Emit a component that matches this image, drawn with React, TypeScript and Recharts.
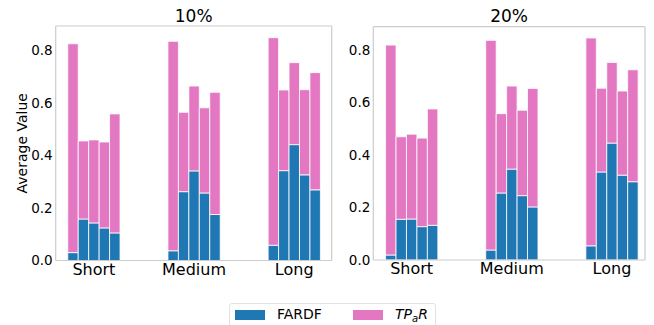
import React from 'react';
import { BarChart, Bar, XAxis, YAxis, ReferenceLine } from 'recharts';

const categories = ['Short', 'Medium', 'Long'];
const yTicks = [0, 0.2, 0.4, 0.6, 0.8];
const groupTicks = [0, 1, 2];
const seriesNames = ['FARDF', 'TPaR'];

// 10% panel: FARDF (blue, bottom) and bar totals (top of pink)
const fardf10Short = [0.030, 0.158, 0.143, 0.124, 0.105];
const fardf10Medium = [0.037, 0.262, 0.341, 0.257, 0.175];
const fardf10Long = [0.058, 0.342, 0.441, 0.326, 0.269];
const total10Short = [0.825, 0.455, 0.459, 0.451, 0.558];
const total10Medium = [0.834, 0.564, 0.664, 0.581, 0.640];
const total10Long = [0.848, 0.649, 0.753, 0.650, 0.715];

// 20% panel
const fardf20Short = [0.019, 0.155, 0.156, 0.127, 0.132];
const fardf20Medium = [0.038, 0.255, 0.346, 0.245, 0.202];
const fardf20Long = [0.054, 0.335, 0.445, 0.323, 0.298];
const total20Short = [0.818, 0.469, 0.479, 0.464, 0.575];
const total20Medium = [0.836, 0.557, 0.662, 0.570, 0.653];
const total20Long = [0.845, 0.654, 0.752, 0.643, 0.724];

const BLUE = '#1f77b4';
const PINK = '#e377c2';
const SPINE = '#cccccc';
const FONT = '"DejaVu Sans", sans-serif';

function buildRows(fardf: number[][], total: number[][]) {
  return categories.map((c, gi) => {
    const row: any = { x: gi, name: c };
    for (let i = 0; i < 5; i++) {
      row['b' + i] = fardf[gi][i];
      row['p' + i] = +(total[gi][i] - fardf[gi][i]).toFixed(4);
    }
    return row;
  });
}

const rows10 = buildRows([fardf10Short, fardf10Medium, fardf10Long], [total10Short, total10Medium, total10Long]);
const rows20 = buildRows([fardf20Short, fardf20Medium, fardf20Long], [total20Short, total20Medium, total20Long]);

const renderYLabel = (props: any) => {
  const vb = props.viewBox || { x: 0, y: 0, width: 0, height: 0 };
  const cx = vb.x + 11.3;
  const cy = vb.y + vb.height / 2;
  return (
    <text
      x={cx}
      y={cy}
      transform={`rotate(-90 ${cx} ${cy})`}
      textAnchor="middle"
      dominantBaseline="central"
      fontSize={14}
      fontFamily={FONT}
      fill="#000"
    >
      Average Value
    </text>
  );
};

type PanelProps = {
  rows: any[];
  width: number;
  height: number;
  margin: { top: number; right: number; bottom: number; left: number };
  yAxisWidth: number;
  xDomain: [number, number];
  yDomain: [number, number];
  showYLabel: boolean;
};

function Panel(p: PanelProps) {
  const bars: React.ReactNode[] = [];
  for (let i = 0; i < 5; i++) {
    bars.push(
      <Bar
        key={'b' + i}
        dataKey={'b' + i}
        stackId={'s' + i}
        name={seriesNames[0]}
        fill={BLUE}
        stroke="#ffffff"
        strokeWidth={0.8}
        isAnimationActive={false}
      />
    );
    bars.push(
      <Bar
        key={'p' + i}
        dataKey={'p' + i}
        stackId={'s' + i}
        name={seriesNames[1]}
        fill={PINK}
        stroke="#ffffff"
        strokeWidth={0.8}
        isAnimationActive={false}
      />
    );
  }
  return (
    <BarChart
      width={p.width}
      height={p.height}
      data={p.rows}
      margin={p.margin}
      barSize={10.45}
      barGap={0}
    >
      <XAxis
        dataKey="x"
        type="number"
        domain={p.xDomain}
        allowDataOverflow
        ticks={groupTicks}
        tickFormatter={(v: number) => categories[v] ?? ''}
        tickLine={false}
        tickSize={0}
        tickMargin={3}
        height={30}
        axisLine={{ stroke: SPINE, strokeWidth: 1.2 }}
        tick={{ fontSize: 16, fontFamily: FONT, fill: '#000' }}
        interval={0}
      />
      <YAxis
        type="number"
        domain={p.yDomain}
        allowDataOverflow
        ticks={yTicks}
        tickFormatter={(v: number) => v.toFixed(1)}
        tickLine={false}
        tickSize={0}
        tickMargin={3}
        width={p.yAxisWidth}
        axisLine={{ stroke: SPINE, strokeWidth: 1.2 }}
        tick={{ fontSize: 13.5, fontFamily: FONT, fill: '#000' }}
        interval={0}
        label={p.showYLabel ? renderYLabel : undefined}
      />
      <ReferenceLine y={p.yDomain[1]} stroke={SPINE} strokeWidth={1.2} ifOverflow="visible" />
      <ReferenceLine x={p.xDomain[1]} stroke={SPINE} strokeWidth={1.2} ifOverflow="visible" />
      {bars}
    </BarChart>
  );
}

function Legend() {
  return (
    <div
      style={{
        position: 'absolute',
        left: 229,
        top: 303,
        width: 207,
        height: 30,
        border: '1px solid #e2e2e2',
        borderRadius: 3,
        boxSizing: 'border-box',
        background: '#fff',
        fontFamily: FONT,
        fontSize: 14,
        color: '#000',
      }}
    >
      <div style={{ position: 'absolute', left: 5, top: 6, width: 30, height: 9.5, background: BLUE }} />
      <div style={{ position: 'absolute', left: 47, top: 3, lineHeight: '14px', whiteSpace: 'nowrap' }}>
        {seriesNames[0]}
      </div>
      <div style={{ position: 'absolute', left: 123, top: 6, width: 30, height: 9.5, background: PINK }} />
      <div style={{ position: 'absolute', left: 165, top: 3, lineHeight: '14px', whiteSpace: 'nowrap', fontStyle: 'italic' }}>
        TP<span style={{ fontSize: 10, verticalAlign: '-3px' }}>a</span>R
      </div>
    </div>
  );
}

export default function App() {
  return (
    <div
      style={{
        position: 'absolute',
        left: 0,
        top: 0,
        width: 654,
        height: 325,
        overflow: 'hidden',
        background: '#fff',
        fontFamily: FONT,
      }}
    >
      <div style={{ position: 'absolute', left: 0, top: 0 }}>
        <Panel
          rows={rows10}
          width={340}
          height={291}
          margin={{ top: 26, right: 8.3, bottom: 0.5, left: 10.7 }}
          yAxisWidth={45}
          xDomain={[-0.381, 2.374]}
          yDomain={[0, 0.8925]}
          showYLabel={true}
        />
      </div>
      <div style={{ position: 'absolute', left: 340, top: 0 }}>
        <Panel
          rows={rows20}
          width={314}
          height={290}
          margin={{ top: 26.7, right: 9, bottom: 0, left: 3.3 }}
          yAxisWidth={30}
          xDomain={[-0.383, 2.33]}
          yDomain={[0, 0.888]}
          showYLabel={false}
        />
      </div>
      <div
        style={{
          position: 'absolute',
          left: 55.7,
          width: 276,
          top: 8.3,
          textAlign: 'center',
          fontSize: 17,
          lineHeight: '17px',
          color: '#000',
        }}
      >
        10%
      </div>
      <div
        style={{
          position: 'absolute',
          left: 373.3,
          width: 271.7,
          top: 8.3,
          textAlign: 'center',
          fontSize: 17,
          lineHeight: '17px',
          color: '#000',
        }}
      >
        20%
      </div>
      <Legend />
    </div>
  );
}
